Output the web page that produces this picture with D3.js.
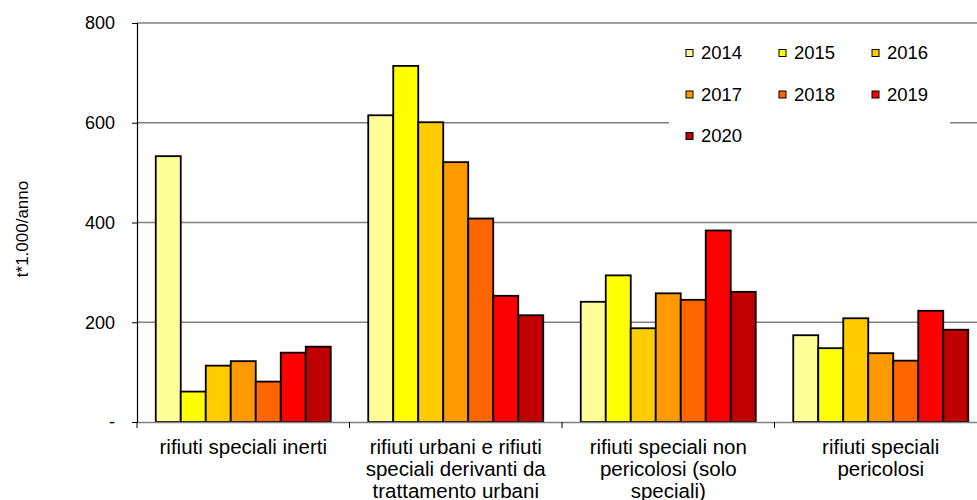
<!DOCTYPE html>
<html>
<head>
<meta charset="utf-8">
<script src="https://cdn.jsdelivr.net/npm/d3@7"></script>
<style>
  html, body { margin: 0; padding: 0; background: #fff; }
  svg { display: block; font-family: "Liberation Sans", Arial, sans-serif; }
</style>
</head>
<body>
<svg id="chart" width="977" height="500"></svg>
<script>
const categories = [
  "rifiuti speciali inerti",
  "rifiuti urbani e rifiuti speciali derivanti da trattamento urbani",
  "rifiuti speciali non pericolosi (solo speciali)",
  "rifiuti speciali pericolosi"
];
const categoryLines = [
  ["rifiuti speciali inerti"],
  ["rifiuti urbani e rifiuti", "speciali derivanti da", "trattamento urbani"],
  ["rifiuti speciali non", "pericolosi (solo", "speciali)"],
  ["rifiuti speciali", "pericolosi"]
];
const years = ["2014", "2015", "2016", "2017", "2018", "2019", "2020"];
const colors = ["#FFFF99", "#FFFF00", "#FFCC00", "#FF9900", "#FF6600", "#FF0000", "#C00000"];
// values in t*1.000/anno, one array per year, in category order
const v2014 = [533, 615, 241, 174];
const v2015 = [61, 714, 294, 148];
const v2016 = [113, 601, 188, 208];
const v2017 = [122, 521, 258, 138];
const v2018 = [81, 408, 245, 123];
const v2019 = [139, 253, 384, 223];
const v2020 = [151, 214, 261, 185];
const seriesValues = [v2014, v2015, v2016, v2017, v2018, v2019, v2020];
const yTicks = [0, 200, 400, 600, 800];
const yTickLabels = ["-", "200", "400", "600", "800"];
const yTitle = "t*1.000/anno";

(function () {
const svg = d3.select("#chart");
const mLeft = 137, mTop = 23, mBottom = 422, mRight = 987;

const y = d3.scaleLinear().domain([0, 800]).range([mBottom, mTop]);
const x0 = d3.scaleBand().domain(categories).range([mLeft, mRight]).padding(0);
const x1 = d3.scaleBand().domain(years).range([0, x0.bandwidth()]).paddingInner(0).paddingOuter(0.75);

// gridlines
svg.append("g").selectAll("line").data(yTicks.filter(d => d > 0)).join("line")
  .attr("x1", mLeft).attr("x2", mRight)
  .attr("y1", d => y(d)).attr("y2", d => y(d))
  .attr("stroke", "#808080").attr("stroke-width", 1.3);

// bars
const rows = [];
categories.forEach((c, ci) => years.forEach((yr, yi) => rows.push({c, yr, yi, v: seriesValues[yi][ci]})));
svg.append("g").selectAll("rect").data(rows).join("rect")
  .attr("x", d => x0(d.c) + x1(d.yr))
  .attr("y", d => y(d.v))
  .attr("width", x1.bandwidth())
  .attr("height", d => y(0) - y(d.v))
  .attr("fill", d => colors[d.yi])
  .attr("stroke", "#000").attr("stroke-width", 1.8);

// y axis
const yAxis = d3.axisLeft(y).tickValues(yTicks).tickFormat((d, i) => yTickLabels[i]).tickSizeOuter(0).tickSize(5).tickPadding(17);
const gy = svg.append("g").attr("transform", `translate(${mLeft},0)`).call(yAxis);
gy.select(".domain").attr("stroke", "#000").attr("stroke-width", 1.2);
gy.selectAll(".tick line").attr("stroke", "#000");
gy.selectAll(".tick text").attr("font-size", 18).attr("fill", "#000")
  .attr("font-family", "Liberation Sans, Arial, sans-serif");

// x axis
const xAxis = d3.axisBottom(x0).tickValues([]).tickSizeOuter(0);
const gx = svg.append("g").attr("transform", `translate(0,${mBottom})`).call(xAxis);
gx.select(".domain").attr("stroke", "#808080").attr("stroke-width", 1.3);
const boundaries = categories.map(c => x0(c)).concat([mRight]);
svg.append("g").selectAll("line").data(boundaries).join("line")
  .attr("x1", d => d).attr("x2", d => d)
  .attr("y1", mBottom).attr("y2", mBottom + 6)
  .attr("stroke", "#000").attr("stroke-width", 1);

// category labels
const lab = svg.append("g").selectAll("text").data(categories).join("text")
  .attr("text-anchor", "middle")
  .attr("font-size", 20.5).attr("fill", "#000")
  .attr("x", d => x0(d) + x0.bandwidth() / 2)
  .attr("y", 454);
lab.each(function(d, i) {
  const t = d3.select(this);
  categoryLines[i].forEach((line, li) => {
    t.append("tspan").attr("x", x0(d) + x0.bandwidth() / 2).attr("dy", li === 0 ? 0 : 22).text(line);
  });
});

// y title
svg.append("text")
  .attr("transform", "translate(28,229) rotate(-90)")
  .attr("text-anchor", "middle")
  .attr("font-size", 17).attr("fill", "#000")
  .text(yTitle);

// legend
const lg = svg.append("g");
lg.append("rect").attr("x", 669).attr("y", 31).attr("width", 281).attr("height", 124).attr("fill", "#fff");
const items = lg.selectAll("g").data(years).join("g")
  .attr("transform", (d, i) => `translate(${686 + (i % 3) * 93},${53 + Math.floor(i / 3) * 41.5})`);
items.append("rect").attr("x", 0).attr("y", -3.5).attr("width", 7).attr("height", 7)
  .attr("fill", (d, i) => colors[i]).attr("stroke", "#000").attr("stroke-width", 1);
items.append("text").attr("x", 15).attr("dy", "0.35em").attr("font-size", 18.5).attr("fill", "#000").text(d => d);
})();
</script>
</body>
</html>
